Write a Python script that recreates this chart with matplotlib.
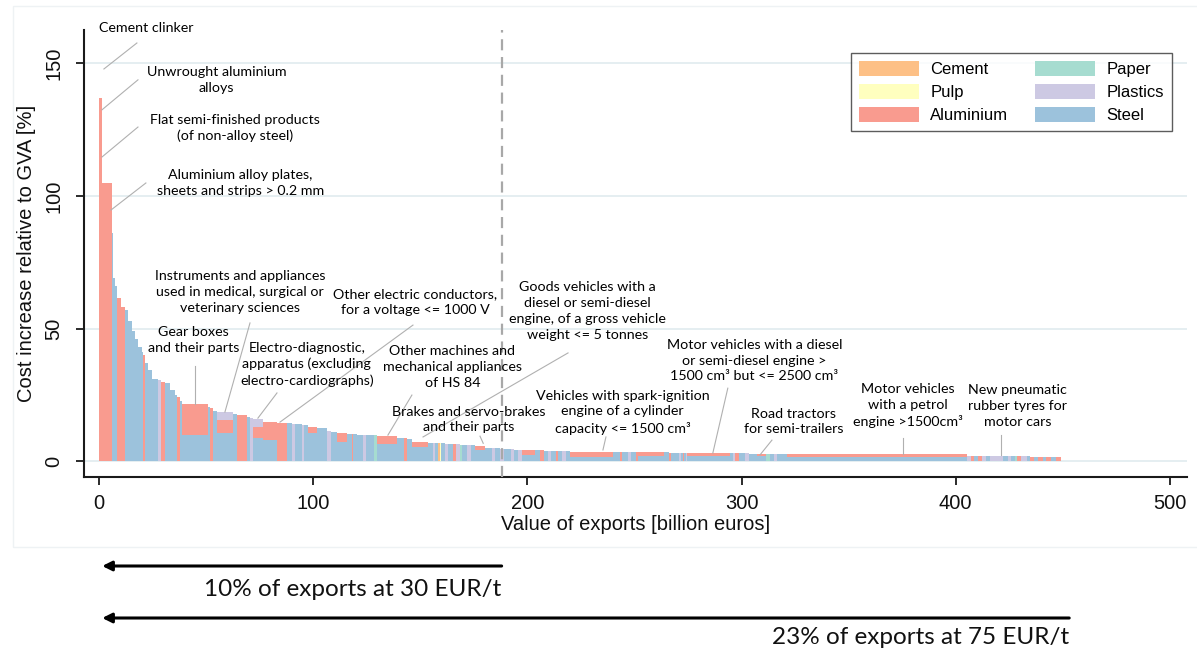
import numpy as np
import matplotlib
matplotlib.use("Agg")
import matplotlib.pyplot as plt
from matplotlib.patches import Patch, Rectangle
from matplotlib.transforms import blended_transform_factory

# ---------------- data ----------------
# export value of each product (billion euros), sorted by cost increase
widths = [
    0.1, 1.1, 0.3, 4.4, 0.6, 0.9, 0.8, 2.3, 1.6, 1.55,
    1.6, 1.55, 1.55, 1.6, 0.75, 0.8, 1.55, 1.6, 3.1, 1.1,
    2.0, 2.3, 2.3, 1.1, 1.25, 0.8, 12.4, 1.0, 1.0, 1.9,
    7.8, 0.8, 1.0, 4.4, 1.5, 1.6, 4.7, 6.2, 4.7, 2.5,
    1.5, 3.0, 1.2, 1.9, 3.9, 4.7, 2.0, 2.7, 4.7, 2.2,
    0.9, 1.6, 3.0, 1.5, 3.5, 1.3, 9.3, 3.5, 1.5, 2.0,
    7.8, 2.0, 1.2, 1.5, 0.6, 0.4, 2.0, 1.5, 2.5, 1.0,
    2.0, 1.0, 2.5, 1.6, 2.0, 4.7, 3.0, 1.5, 2.5, 2.0,
    3.0, 1.5, 2.0, 1.6, 6.2, 2.5, 1.5, 2.0, 1.3, 2.5,
    1.0, 2.0, 1.5, 2.0, 20.2, 3.0, 1.2, 2.5, 1.5, 2.3,
    1.0, 12.4, 2.0, 1.2, 2.5, 1.2, 0.8, 1.0, 0.6, 0.6,
    0.5, 20.2, 1.5, 1.0, 1.5, 3.0, 2.0, 3.5, 4.5, 1.5,
    2.0, 1.5, 2.5, 2.0, 84.0, 2.0, 1.5, 2.0, 1.5, 2.0,
    1.9, 6.2, 2.0, 1.5, 2.0, 1.0, 2.0, 2.5, 1.5, 2.0,
    1.5, 2.5, 1.5, 2.5, 2.2, 2.5]

# cost increase relative to GVA [%] by material
steel = [
    0, 0, 115, 0, 86, 69, 66, 0, 0, 57,
    53, 49, 46, 43, 41, 0, 37, 34.5, 31, 0,
    0, 29.5, 27, 25, 0, 22.5, 9.8, 20.5, 0, 19,
    10.5, 17.8, 17.6, 0, 16.6, 0, 8.8, 7.9, 0, 14.2,
    0, 13.9, 0, 13.6, 10.5, 12.4, 0, 11.0, 7.3, 10.3,
    0, 10.1, 10.0, 0, 9.8, 0, 6.4, 8.7, 0, 8.4,
    5.4, 7.0, 0, 6.8, 0, 0, 6.7, 0, 6.5, 0,
    0, 0, 6.1, 0, 5.9, 4.0, 5.0, 0, 4.8, 0,
    4.5, 0, 4.3, 0, 2.3, 4.0, 0, 3.95, 0, 3.9,
    0, 3.85, 0, 3.8, 1.6, 3.5, 0, 3.45, 0, 3.4,
    0, 1.8, 3.25, 0, 3.2, 3.2, 0, 3.15, 0, 3.1,
    0, 1.9, 2.95, 0, 0, 2.9, 0, 2.85, 2.0, 0,
    2.75, 0, 2.7, 2.7, 1.6, 0, 0, 1.95, 0, 0,
    1.9, 0, 1.85, 0, 1.8, 0, 0, 0, 1.75, 0,
    1.7, 0, 1.65, 0, 1.6, 0]

aluminium = [
    0, 137, 0, 105, 0, 0, 0, 61.5, 58, 0,
    0, 0, 0, 0, 0, 40, 0, 0, 0, 0,
    30, 0, 0, 0, 24, 0, 11.7, 0, 20, 0,
    5.0, 0, 0, 17.3, 0, 0, 4.1, 6.9, 14.5, 0,
    0, 0, 0, 0, 2.5, 0, 0, 0, 3.2, 0,
    10.2, 0, 0, 0, 0, 0, 2.9, 0, 8.6, 0,
    1.9, 0, 0, 0, 0, 0, 0, 0, 0, 6.4,
    0, 0, 0, 0, 0, 1.8, 0, 0, 0, 0,
    0, 0, 0, 0, 1.7, 0, 4.0, 0, 0, 0,
    3.85, 0, 0, 0, 1.9, 0, 3.5, 0, 0, 0,
    3.35, 1.5, 0, 3.2, 0, 0, 0, 0, 3.1, 0,
    0, 1.1, 0, 0, 2.9, 0, 0, 0, 0.8, 0,
    0, 0, 0, 0, 1.0, 0, 2.0, 0, 1.95, 0,
    0, 0, 0, 0, 0, 0, 1.8, 0, 0, 1.7,
    0, 1.65, 0, 1.6, 0, 1.6]

plastics = [
    0, 0, 0, 0, 0, 0, 0, 0, 0, 0,
    0, 0, 0, 0, 0, 0, 0, 0, 0, 30.5,
    0, 0, 0, 0, 0, 0, 0, 0, 0, 0,
    3.0, 0, 0, 0, 0, 16.4, 2.8, 0, 0, 0,
    14.0, 0, 13.7, 0, 0, 0, 11.3, 0, 0, 0,
    0, 0, 0, 9.9, 0, 0, 0, 0, 0, 0,
    0, 0, 6.9, 0, 0, 0, 0, 6.6, 0, 0,
    6.3, 0, 0, 6.0, 0, 0, 0, 4.9, 0, 4.6,
    0, 4.4, 0, 4.2, 0, 0, 0, 0, 3.9, 0,
    0, 0, 3.8, 0, 0, 0, 0, 0, 3.4, 0,
    0, 0, 0, 0, 0, 0, 3.15, 0, 0, 0,
    3.05, 0, 0, 2.95, 0, 0, 2.9, 0, 0, 0,
    0, 2.75, 0, 0, 0, 2.0, 0, 0, 0, 1.9,
    0, 1.9, 0, 1.85, 0, 0, 0, 1.75, 0, 0,
    0, 0, 0, 0, 0, 0]

# the few products whose cost increase comes from the minor materials
# (bar index -> cost increase [%])
cement_bars = {0: 148.0, 64: 6.8}
pulp_bars = {65: 6.7}
paper_bars = {55: 9.7, 71: 6.2, 119: 2.8, 135: 1.8}

materials = ["Cement", "Pulp", "Aluminium", "Paper", "Plastics", "Steel"]
colors = {"Cement": "#fdc086", "Pulp": "#ffffbf", "Aluminium": "#f99b8f",
          "Paper": "#a6dcd0", "Plastics": "#cdc9e3", "Steel": "#9cc2dc"}

# annotation texts, label position (x, y) and leader line (x0, y0, x1, y1)
ann_texts = ["Cement clinker",
             "Unwrought aluminium\nalloys",
             "Flat semi-finished products\n(of non-alloy steel)",
             "Aluminium alloy plates,\nsheets and strips > 0.2 mm",
             "Instruments and appliances\nused in medical, surgical or\nveterinary sciences",
             "Gear boxes\nand their parts",
             "Electro-diagnostic,\napparatus (excluding\nelectro-cardiographs)",
             "Other electric conductors,\nfor a voltage <= 1000 V",
             "Other machines and\nmechanical appliances\nof HS 84",
             "Brakes and servo-brakes\nand their parts",
             "Goods vehicles with a\ndiesel or semi-diesel\nengine, of a gross vehicle\nweight <= 5 tonnes",
             "Vehicles with spark-ignition\nengine of a cylinder\ncapacity <= 1500 cm³",
             "Motor vehicles with a diesel\nor semi-diesel engine >\n1500 cm³ but <= 2500 cm³",
             "Road tractors\nfor semi-trailers",
             "Motor vehicles\nwith a petrol\nengine >1500cm³",
             "New pneumatic\nrubber tyres for\nmotor cars"]
ann_x = [22, 55, 63.5, 66, 66, 44, 97, 147.5, 165, 172.5, 228, 244.5, 306, 324.5, 377.5, 429]
ann_y = [163.4, 143.6, 125.7, 104.9, 63.8, 45.7, 36.6, 60.0, 35.5, 15.7, 56.6, 18.5, 37.9, 14.9, 20.8, 20.8]
lead_x0 = [2.3, 1.4, 1.4, 5.6, 58.8, 44.8, 74.2, 84.5, 134.9, 179.4, 151.3, 235.3, 286.6, 308.6, 375.4, 421.1]
lead_y0 = [147.9, 132.5, 114.7, 94.7, 18.5, 21.5, 16.2, 14.7, 9.8, 6.7, 9.1, 4.2, 3.0, 2.3, 2.6, 2.3]
lead_x1 = [17.7, 18.2, 18.2, 21.9, 70.5, 44.8, 83.1, 146.6, 146.1, 177.9, 219.0, 236.7, 293.6, 314.2, 375.4, 421.1]
lead_y1 = [157.7, 143.8, 126.0, 104.9, 52.1, 35.8, 25.7, 51.3, 24.9, 9.4, 40.8, 9.1, 27.5, 7.9, 8.7, 9.8]

threshold_30 = 188      # cumulative exports (billion EUR) at 30 EUR/t
threshold_75 = 453      # cumulative exports (billion EUR) at 75 EUR/t
arrow_texts = ["10% of exports at 30 EUR/t", "23% of exports at 75 EUR/t"]

# ---------------- figure ----------------
n = len(widths)
assert len(steel) == n and len(aluminium) == n and len(plastics) == n

W, H = 1197, 655
fig = plt.figure(figsize=(W / 100, H / 100), dpi=100)
fig.patch.set_facecolor("white")
ax = fig.add_axes([84 / W, 1 - 477 / H, (1187 - 84) / W, (477 - 30) / H])

# faint outer graph-region frame
fig.patches.append(Rectangle((13 / W, 1 - 547 / H), 1.2, 541 / H, transform=fig.transFigure,
                             fill=False, edgecolor="#eef2f4", linewidth=1.0, zorder=0))

w = np.array(widths, dtype=float)
lefts = np.concatenate([[0.0], np.cumsum(w)[:-1]])

def sparse(d):
    arr = np.zeros(n)
    for k, v in d.items():
        arr[k] = v
    return arr

layers = [("Steel", np.array(steel, float)),
          ("Aluminium", np.array(aluminium, float)),
          ("Plastics", np.array(plastics, float)),
          ("Cement", sparse(cement_bars)),
          ("Pulp", sparse(pulp_bars)),
          ("Paper", sparse(paper_bars))]
bottom = np.zeros(n)
for name, vals in layers:
    ax.bar(lefts, vals, width=w, bottom=bottom, align="edge", color=colors[name],
           linewidth=0, zorder=2)
    bottom = bottom + vals

# gridlines
for yv in [0, 50, 100, 150]:
    ax.axhline(yv, color="#e3edf0", linewidth=1.3, zorder=1)

# dashed threshold line
ax.axvline(threshold_30, color="#a8a8a8", linestyle=(0, (5, 3)), linewidth=1.6, zorder=3)

ax.set_xlim(-7, 508)
ax.set_ylim(-6, 162.6)
ax.set_xticks([0, 100, 200, 300, 400, 500])
ax.set_yticks([0, 50, 100, 150])
for s in ["top", "right"]:
    ax.spines[s].set_visible(False)
for s in ["left", "bottom"]:
    ax.spines[s].set_linewidth(1.5)
    ax.spines[s].set_color("#1a1a1a")

tick_font = "Liberation Sans"
ax.tick_params(axis="x", length=6, width=1.3, color="#1a1a1a", pad=6,
               labelsize=14.5, labelcolor="#111111")
ax.tick_params(axis="y", length=6, width=1.3, color="#1a1a1a", pad=9,
               labelsize=14.5, labelcolor="#111111", labelrotation=90)
for lab in ax.get_xticklabels() + ax.get_yticklabels():
    lab.set_fontfamily(tick_font)
for lab in ax.get_yticklabels():
    lab.set_va("center")

ax.set_xlabel("Value of exports [billion euros]", fontsize=14.5, family=tick_font,
              color="#111111", labelpad=2)
ax.set_ylabel("Cost increase relative to GVA [%]", fontsize=14.5, family=tick_font,
              color="#111111", labelpad=6)

# annotations
ann_font = "Lato"
for t, x, y, x0, y0, x1, y1 in zip(ann_texts, ann_x, ann_y, lead_x0, lead_y0, lead_x1, lead_y1):
    ax.plot([x0, x1], [y0, y1], color="#b0b0b0", linewidth=0.8, zorder=4, clip_on=False)
    ax.text(x, y, t, ha="center", va="center", fontsize=10.3, family=ann_font,
            color="#000000", linespacing=1.38, zorder=5, clip_on=False)

# legend
handles = [Patch(facecolor=colors[m], edgecolor="none", label=m) for m in materials]
leg = ax.legend(handles=handles, ncol=2, loc="upper right",
                bbox_to_anchor=(1180 / W, 1 - 45 / H), bbox_transform=fig.transFigure,
                frameon=True, fancybox=False, shadow=False, borderpad=0.45,
                handlelength=3.6, handleheight=1.0, handletextpad=0.7,
                columnspacing=1.6, labelspacing=0.42,
                prop={"family": tick_font, "size": 12})
leg.get_frame().set_edgecolor("#333333")
leg.get_frame().set_linewidth(1.0)

# arrows below the axis
bt = blended_transform_factory(ax.transData, fig.transFigure)
for xr, ya, yt, txt in [(threshold_30, 1 - 566 / H, 1 - 590 / H, arrow_texts[0]),
                        (threshold_75, 1 - 618 / H, 1 - 637 / H, arrow_texts[1])]:
    ax.annotate("", xy=(1.5, ya), xycoords=bt, xytext=(xr, ya), textcoords=bt,
                arrowprops=dict(arrowstyle="-|>", color="black", lw=2.2,
                                mutation_scale=14, shrinkA=0, shrinkB=0),
                annotation_clip=False)
    ax.text(xr, yt, txt, transform=bt, ha="right", va="center", fontsize=17.5,
            family=ann_font, color="#111111", clip_on=False)

fig.savefig("out.png", dpi=100)
